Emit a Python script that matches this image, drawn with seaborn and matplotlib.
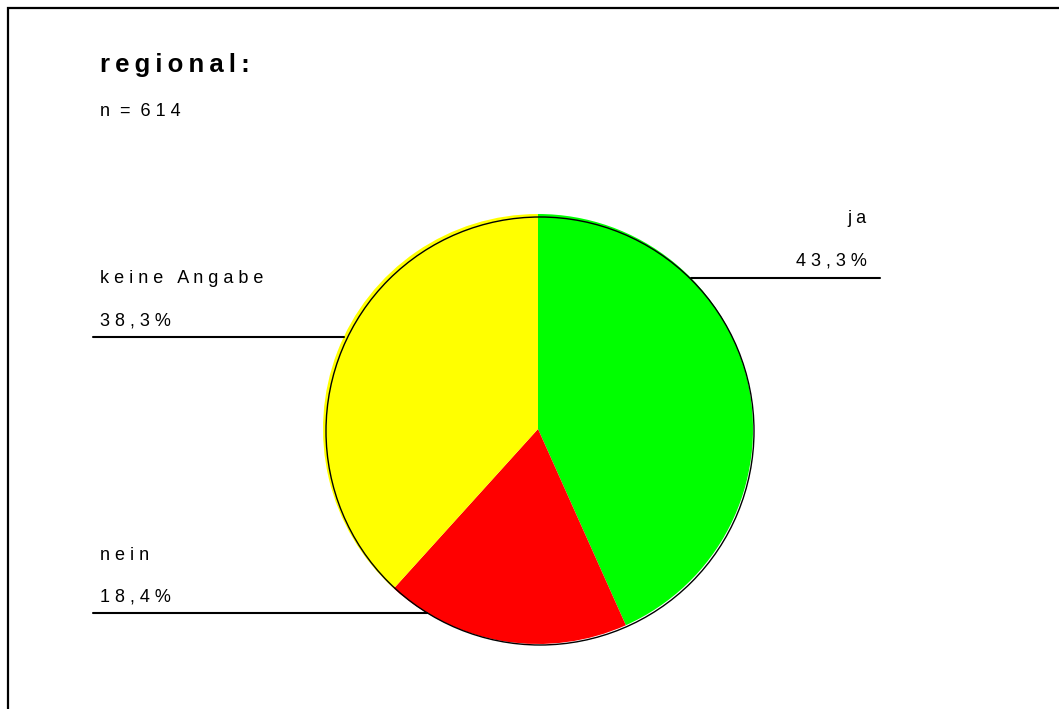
import numpy as np
import matplotlib
matplotlib.use("Agg")
import matplotlib.pyplot as plt
from matplotlib.patches import Circle, Rectangle
import seaborn as sns

# Survey answers
categories = ["ja", "nein", "keine Angabe"]
shares = [43.3, 18.4, 38.3]
colors = ["#00FF00", "#FF0000", "#FFFF00"]
title = "regional:"
sample = "n = 614"

sns.set_theme(style="white")
plt.rcParams["font.family"] = ["Liberation Sans", "DejaVu Sans"]
plt.rcParams["text.color"] = "black"

W, H = 1059, 709
fig = plt.figure(figsize=(W / 100, H / 100), dpi=100)
ax = fig.add_axes([0, 0, 1, 1])

THIN = "\u2009"


def Y(y):
    """Top-down pixel row to axis y."""
    return H - y


def spaced(s, sep=" "):
    return sep.join(s)


def pct(v):
    return spaced(f"{v:.1f}".replace(".", ",") + "%")


cx, cy, r = 538, 429, 215
ax.pie(shares, colors=colors, startangle=90, counterclock=False,
       center=(cx, Y(cy)), radius=r, frame=True,
       wedgeprops=dict(linewidth=0))

# slightly offset outline around the disc
ax.add_patch(Circle((cx + 2, Y(cy + 2)), r - 1, fill=False,
                    edgecolor="black", linewidth=1.0, zorder=5))

ax.set_xlim(0, W)
ax.set_ylim(0, H)
ax.set_aspect("equal")
ax.axis("off")

# page frame
ax.add_patch(Rectangle((8, Y(H + 20)), W + 20, H + 12, fill=False,
                       edgecolor="black", linewidth=1.6, zorder=6))

ax.text(100, Y(72), spaced(title, THIN), fontsize=18.5, fontweight="bold",
        color="black", ha="left", va="baseline")
n_left, n_right = sample.split("=")
ax.text(100, Y(116),
        n_left.strip() + "  =  " + spaced(n_right.strip()),
        fontsize=13, color="black", ha="left", va="baseline")


def edge_x(line_y, side):
    dy = line_y - cy
    return cx + side * np.sqrt(r * r - dy * dy)


lab_fs = 13
kw = dict(fontsize=lab_fs, color="black", va="baseline")
# ja (right side)
ax.text(867, Y(223), spaced(categories[0]), ha="right", **kw)
ax.text(867, Y(265), pct(shares[0]), ha="right", **kw)
ax.plot([edge_x(278, 1), 880], [Y(278), Y(278)], color="black", lw=1.5)

# keine Angabe (left, upper)
ax.text(100, Y(283), spaced(categories[2]), ha="left", **kw)
ax.text(100, Y(326), pct(shares[2]), ha="left", **kw)
ax.plot([93, edge_x(337, -1)], [Y(337), Y(337)], color="black", lw=1.5)

# nein (left, lower)
ax.text(100, Y(560), spaced(categories[1]), ha="left", **kw)
ax.text(100, Y(602), pct(shares[1]), ha="left", **kw)
ax.plot([93, edge_x(613, -1)], [Y(613), Y(613)], color="black", lw=1.5)

fig.savefig("out.png", dpi=100, facecolor="white")
